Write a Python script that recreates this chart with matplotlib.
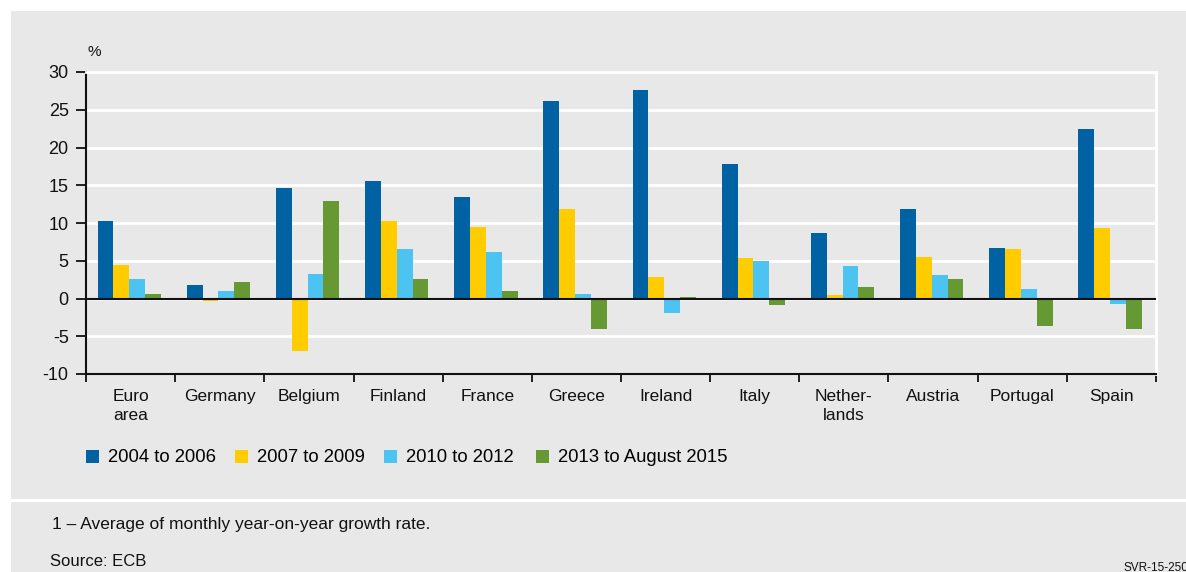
import matplotlib
matplotlib.use("Agg")
import matplotlib.pyplot as plt
from matplotlib.patches import Rectangle
import numpy as np

countries = ["Euro\narea", "Germany", "Belgium", "Finland", "France", "Greece",
             "Ireland", "Italy", "Nether-\nlands", "Austria", "Portugal", "Spain"]
series_names = ["2004 to 2006", "2007 to 2009", "2010 to 2012", "2013 to August 2015"]
p2004_2006 = [10.3, 1.8, 14.7, 15.6, 13.5, 26.2, 27.6, 17.8, 8.7, 11.8, 6.7, 22.5]
p2007_2009 = [4.4, -0.3, -7.0, 10.3, 9.5, 11.9, 2.9, 5.4, 0.5, 5.5, 6.5, 9.4]
p2010_2012 = [2.6, 1.0, 3.3, 6.6, 6.1, 0.6, -1.9, 5.0, 4.3, 3.1, 1.3, -0.7]
p2013_2015 = [0.6, 2.2, 12.9, 2.6, 1.0, -4.0, 0.2, -0.8, 1.5, 2.6, -3.6, -4.0]
colors = ["#0061a3", "#ffcc00", "#4cc3f0", "#669933"]
y_ticks = [30, 25, 20, 15, 10, 5, 0, -5, -10]

plt.rcParams["font.family"] = ["Liberation Sans", "DejaVu Sans"]

W, H = 1186, 572
fig = plt.figure(figsize=(W / 100, H / 100), dpi=100)
fig.patch.set_facecolor("white")

bg = "#e8e8e8"
fig.patches.append(Rectangle((11 / W, 1 - 499 / H), 1 - 11 / W, (499 - 11) / H,
                             transform=fig.transFigure, facecolor=bg, edgecolor="none", zorder=-2))
fig.patches.append(Rectangle((11 / W, 0), 1 - 11 / W, (572 - 502) / H,
                             transform=fig.transFigure, facecolor=bg, edgecolor="none", zorder=-2))

ax = fig.add_axes([86 / W, 1 - 374 / H, (1156 - 86) / W, (374 - 72) / H])
ax.set_zorder(1)
ax.set_facecolor(bg)

series = [p2004_2006, p2007_2009, p2010_2012, p2013_2015]
n = len(countries)
x = np.arange(n) + 0.5
bw = 0.178
for i, (vals, c, name) in enumerate(zip(series, colors, series_names)):
    ax.bar(x + (i - 1.5) * bw - 0.015, vals, width=bw, color=c, label=name, zorder=3,
           linewidth=0)

ax.set_xlim(0, n)
ax.set_ylim(-10, 30)
ax.set_yticks(y_ticks)
ax.set_yticklabels([str(t) for t in y_ticks], fontsize=13, color="#111111")
ax.set_xticks(np.arange(n + 1))
ax.set_xticklabels([])
for xi, lab in zip(x, countries):
    ax.text(xi, -0.05, lab, transform=ax.get_xaxis_transform(), ha="center", va="top",
            fontsize=12.5, color="#111111", linespacing=1.35)

ax.grid(axis="y", color="white", linewidth=2, zorder=1)
ax.axhline(0, color="#111111", linewidth=1.5, zorder=4)
for s in ["top", "right"]:
    ax.spines[s].set_color("white")
    ax.spines[s].set_linewidth(2)
for s in ["left", "bottom"]:
    ax.spines[s].set_color("#111111")
    ax.spines[s].set_linewidth(1.5)
ax.tick_params(axis="y", length=7, width=1.3, color="#111111", pad=5.5)
ax.tick_params(axis="x", length=6, width=1.3, color="#111111", direction="out")

fig.text(94 / W, 1 - 51.5 / H, "%", fontsize=11, ha="center", va="center", color="#111111")

# legend entries placed on a fixed horizontal grid
leg_x = [86, 235, 384, 536]
handles, labels = ax.get_legend_handles_labels()
for lx, h, lab in zip(leg_x, handles, labels):
    fig.legend([h], [lab], loc="center left", bbox_to_anchor=(lx / W, 1 - 458 / H),
               frameon=False, fontsize=13.3, handlelength=0.7, handleheight=0.7,
               handletextpad=0.5, borderaxespad=0, borderpad=0)

fig.text(52 / W, 1 - 524 / H, "1 \u2013 Average of monthly year-on-year growth rate.",
         fontsize=12.5, va="center", ha="left", color="#111111")
fig.text(50 / W, 1 - 561 / H, "Source: ECB", fontsize=12, va="center", ha="left",
         color="#111111")
fig.text(1 + 2 / W, 1 - 568 / H, "SVR-15-250", fontsize=8.5, va="center", ha="right",
         color="#111111")

fig.savefig("out.png", dpi=100, facecolor=fig.get_facecolor())
